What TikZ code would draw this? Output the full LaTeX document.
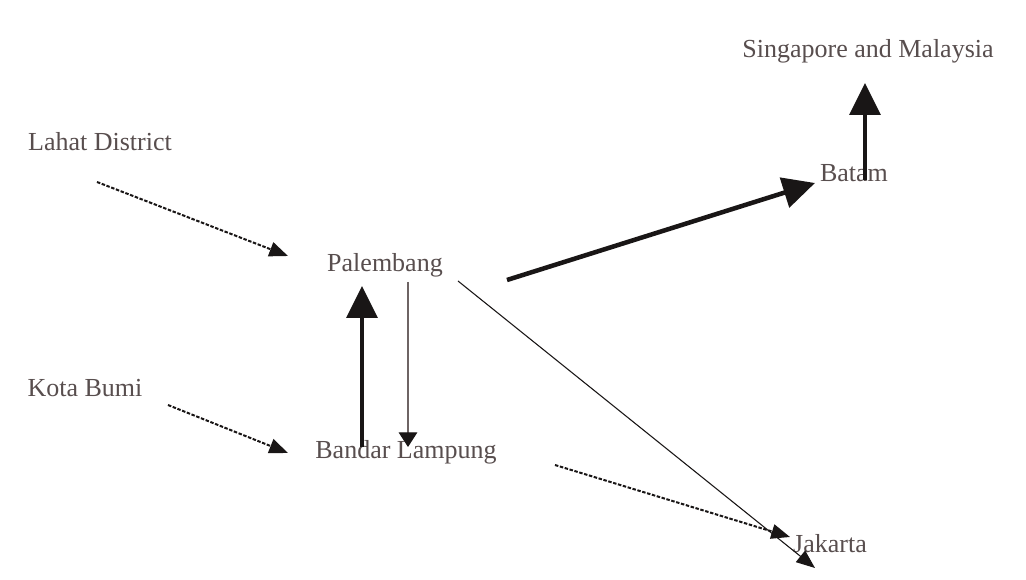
\documentclass[tikz,border=0pt]{standalone}
\usepackage{fontspec}
\setmainfont{Liberation Serif}
\usetikzlibrary{arrows.meta,calc}
\definecolor{txt}{RGB}{88,78,78}
\definecolor{ln}{RGB}{25,22,22}
\definecolor{greyln}{RGB}{110,100,100}
\begin{document}
\begin{tikzpicture}[x=0.75pt,y=-0.75pt,
  lbl/.style={font=\fontsize{19.5}{23}\selectfont, text=txt, inner sep=0pt},
  dashline/.style={draw=ln, line width=1.5pt, dash pattern=on 2.6pt off 1.2pt, -{Triangle[length=14pt,width=11pt]}},
  thinline/.style={draw=ln, line width=0.8pt, -{Triangle[length=14pt,width=11pt]}},
  greyline/.style={draw=greyln, line width=0.8pt, -{Triangle[length=11pt,width=14pt,fill=ln,color=ln]}},
  thickline/.style={draw=ln, line width=3.4pt, -{Triangle[length=24pt,width=23pt]}}]
\useasboundingbox[fill=white] (0,0) rectangle (1026,580);

\node[lbl] (lahat) at (100,142) {Lahat District};
\node[lbl] (sing)  at (868,51)  {Singapore and Malaysia};
\node[lbl] (batam) at (854,173) {Batam};
\node[lbl] (pal)   at (385,265) {Palembang};
\node[lbl] (kota)  at (85,388)  {Kota Bumi};
\node[lbl] (band)  at (406,452) {Bandar Lampung};
\node[lbl] (jak)   at (830,544) {Jakarta};

\draw[dashline] ($(lahat)+(-3,40)$) -- ($(pal)+(-97,-9)$);
\draw[dashline] ($(kota)+(83,17)$) -- ($(band)+(-118,1)$);
\draw[thickline] ($(pal)+(122,15)$) -- ($(batam)+(-39,10)$);
\draw[thickline, line width=3.2pt] ($(batam)+(11,7)$) -- ($(sing)+(-3,32)$);
\draw[thickline, line width=3.2pt] ($(band)+(-44,-5)$) -- ($(pal)+(-23,21)$);
\draw[greyline] ($(pal)+(23,17)$) -- ($(band)+(2,-5)$);
\draw[thinline] ($(pal)+(73,16)$) -- ($(jak)+(-15,24)$);
\draw[dashline] ($(band)+(149,13)$) -- ($(jak)+(-40,-7)$);
\end{tikzpicture}
\end{document}
